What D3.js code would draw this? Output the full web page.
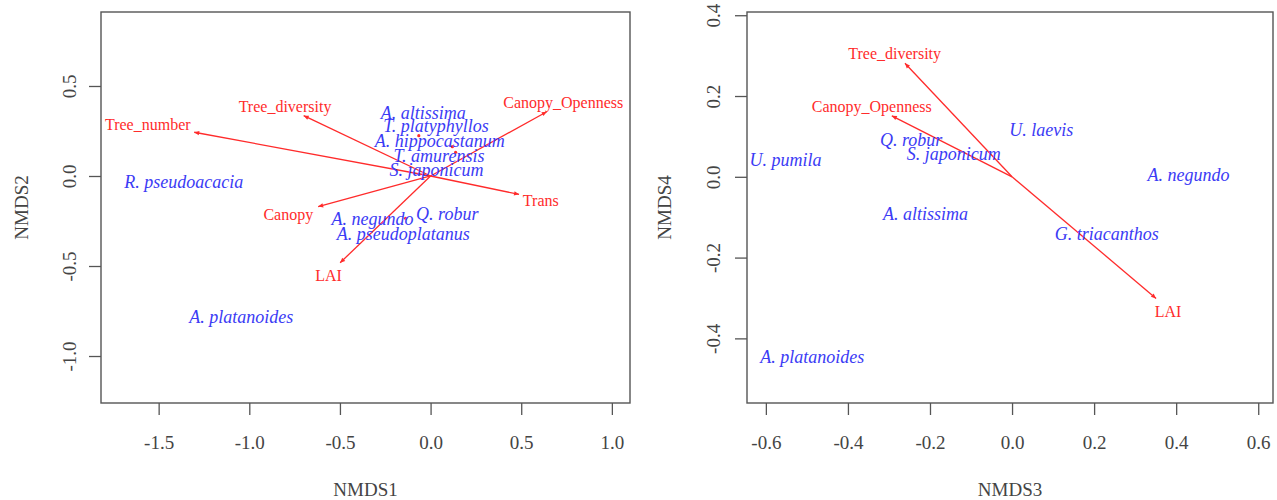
<!DOCTYPE html>
<html>
<head>
<meta charset="utf-8">
<script src="https://cdn.jsdelivr.net/npm/d3@7"></script>
<style>
    body { margin: 0; background: #fff; }
    svg { display: block; font-family: "Liberation Serif", "Times New Roman", serif; }
    .axis path, .axis line { stroke: #555; stroke-width: 1.3; }
    .axis text { fill: #444; font-size: 19px; font-family: "Liberation Serif", serif; }
</style>
</head>
<body>
<div id="chart"></div>
<script>
// ---- left panel: NMDS1 vs NMDS2 ----
let leftSpecies = ["A. altissima", "T. platyphyllos", "A. hippocastanum", "T. amurensis", "S. japonicum",
    "A. negundo", "Q. robur", "A. pseudoplatanus", "R. pseudoacacia", "A. platanoides"];
let leftSpeciesX = [-0.041, 0.030, 0.050, 0.046, 0.033, -0.320, 0.092, -0.151, -1.361, -1.044];
let leftSpeciesY = [0.354, 0.278, 0.194, 0.111, 0.037, -0.235, -0.207, -0.318, -0.032, -0.782];

let leftVars = ["Tree_number", "Tree_diversity", "Canopy", "LAI", "Trans", "Canopy_Openness"];
let leftVarX = [-1.304, -0.700, -0.620, -0.499, 0.488, 0.641];
let leftVarY = [0.243, 0.335, -0.170, -0.482, -0.102, 0.357];
let leftVarLabelX = [-1.560, -0.803, -0.785, -0.563, 0.608, 0.732];
let leftVarLabelY = [0.289, 0.389, -0.213, -0.553, -0.133, 0.407];

let leftDotX = [-0.065, 0.120, 0.138, -0.138];
let leftDotY = [0.224, 0.163, 0.132, -0.235];

let leftTicksX = [-1.5, -1.0, -0.5, 0.0, 0.5, 1.0];
let leftTicksY = [-1.0, -0.5, 0.0, 0.5];

// ---- right panel: NMDS3 vs NMDS4 ----
let rightSpecies = ["U. laevis", "Q. robur", "S. japonicum", "U. pumila", "A. negundo",
    "A. altissima", "G. triacanthos", "A. platanoides"];
let rightSpeciesX = [0.071, -0.246, -0.142, -0.552, 0.430, -0.211, 0.231, -0.487];
let rightSpeciesY = [0.117, 0.093, 0.056, 0.043, 0.004, -0.091, -0.142, -0.446];

let rightVars = ["Tree_diversity", "Canopy_Openness", "LAI"];
let rightVarX = [-0.261, -0.293, 0.351];
let rightVarY = [0.281, 0.151, -0.301];
let rightVarLabelX = [-0.286, -0.342, 0.380];
let rightVarLabelY = [0.305, 0.175, -0.332];

let rightTicksX = [-0.6, -0.4, -0.2, 0.0, 0.2, 0.4, 0.6];
let rightTicksY = [-0.4, -0.2, 0.0, 0.2, 0.4];

let red = "#ff2b2b", blue = "#3b3bf5";
let fmt = (d) => d3.format(".1f")(d).replace("\u2212", "-");

let svg = d3.select("#chart").append("svg")
    .attr("width", 1277)
    .attr("height", 500);

svg.append("defs").append("marker")
    .attr("id", "head")
    .attr("viewBox", "-6 -4 7 8")
    .attr("refX", 0)
    .attr("refY", 0)
    .attr("markerWidth", 7)
    .attr("markerHeight", 8)
    .attr("markerUnits", "userSpaceOnUse")
    .attr("orient", "auto")
    .append("path")
    .attr("d", "M0,0 L-5,-2.2 L-5,2.2 Z")
    .attr("fill", red);

function drawPanel(p) {
    let xScale = d3.scaleLinear().domain(p.xDomain).range([p.left, p.right]);
    let yScale = d3.scaleLinear().domain(p.yDomain).range([p.bottom, p.top]);

    let g = svg.append("g");

    // x axis
    let xAxis = g.append("g")
        .attr("class", "axis")
        .attr("transform", "translate(0," + p.bottom + ")")
        .call(d3.axisBottom(xScale).tickValues(p.ticksX).tickFormat(fmt).tickSize(12).tickPadding(21));
    xAxis.select(".domain").remove();

    // y axis, labels rotated like R's default
    let yAxis = g.append("g")
        .attr("class", "axis")
        .attr("transform", "translate(" + p.left + ",0)")
        .call(d3.axisLeft(yScale).tickValues(p.ticksY).tickFormat(fmt).tickSize(12));
    yAxis.select(".domain").remove();
    yAxis.selectAll("text")
        .attr("x", null)
        .attr("dy", null)
        .style("text-anchor", "middle")
        .attr("transform", "translate(" + p.yLabelOffset + ",0) rotate(-90)");

    // box
    g.append("rect")
        .attr("x", p.left)
        .attr("y", p.top)
        .attr("width", p.right - p.left)
        .attr("height", p.bottom - p.top)
        .attr("fill", "none")
        .attr("stroke", "#555")
        .attr("stroke-width", 1.4);

    // axis titles
    g.append("text")
        .attr("x", (p.left + p.right) / 2)
        .attr("y", 496)
        .attr("text-anchor", "middle")
        .attr("fill", "#444")
        .style("font-size", "19px")
        .text(p.xTitle);

    g.append("text")
        .attr("transform", "translate(" + p.yTitleX + "," + (p.top + p.bottom) / 2 + ") rotate(-90)")
        .attr("text-anchor", "middle")
        .attr("fill", "#444")
        .style("font-size", "19px")
        .text(p.yTitle);

    // small red points
    g.selectAll(".dot")
        .data(p.dotX)
        .enter().append("circle")
        .attr("cx", (d) => xScale(d))
        .attr("cy", (d, i) => yScale(p.dotY[i]))
        .attr("r", 1.6)
        .attr("fill", red);

    // env arrows
    g.selectAll(".arrow")
        .data(p.vars)
        .enter().append("line")
        .attr("x1", xScale(0))
        .attr("y1", yScale(0))
        .attr("x2", (d, i) => xScale(p.varX[i]))
        .attr("y2", (d, i) => yScale(p.varY[i]))
        .attr("stroke", red)
        .attr("stroke-width", 1.3)
        .attr("marker-end", "url(#head)");

    // species names
    g.selectAll(".species")
        .data(p.species)
        .enter().append("text")
        .attr("x", (d, i) => xScale(p.speciesX[i]))
        .attr("y", (d, i) => yScale(p.speciesY[i]))
        .attr("dy", "0.35em")
        .attr("text-anchor", "middle")
        .attr("fill", blue)
        .style("font-style", "italic")
        .style("font-size", "18px")
        .text((d) => d);

    // env labels
    g.selectAll(".varlabel")
        .data(p.vars)
        .enter().append("text")
        .attr("x", (d, i) => xScale(p.labelX[i]))
        .attr("y", (d, i) => yScale(p.labelY[i]))
        .attr("dy", "0.35em")
        .attr("text-anchor", "middle")
        .attr("fill", red)
        .style("font-size", "16px")
        .text((d) => d);
}

drawPanel({
    left: 101, right: 630, top: 12, bottom: 403,
    xDomain: [-1.818, 1.10], yDomain: [-1.261, 0.911],
    ticksX: leftTicksX, ticksY: leftTicksY,
    yLabelOffset: -25, yTitleX: 28,
    xTitle: "NMDS1", yTitle: "NMDS2",
    species: leftSpecies, speciesX: leftSpeciesX, speciesY: leftSpeciesY,
    vars: leftVars, varX: leftVarX, varY: leftVarY, labelX: leftVarLabelX, labelY: leftVarLabelY,
    dotX: leftDotX, dotY: leftDotY
});

drawPanel({
    left: 747, right: 1273, top: 12, bottom: 403,
    xDomain: [-0.646, 0.636], yDomain: [-0.56, 0.408],
    ticksX: rightTicksX, ticksY: rightTicksY,
    yLabelOffset: -27, yTitleX: 671,
    xTitle: "NMDS3", yTitle: "NMDS4",
    species: rightSpecies, speciesX: rightSpeciesX, speciesY: rightSpeciesY,
    vars: rightVars, varX: rightVarX, varY: rightVarY, labelX: rightVarLabelX, labelY: rightVarLabelY,
    dotX: [], dotY: []
});
</script>
</body>
</html>
